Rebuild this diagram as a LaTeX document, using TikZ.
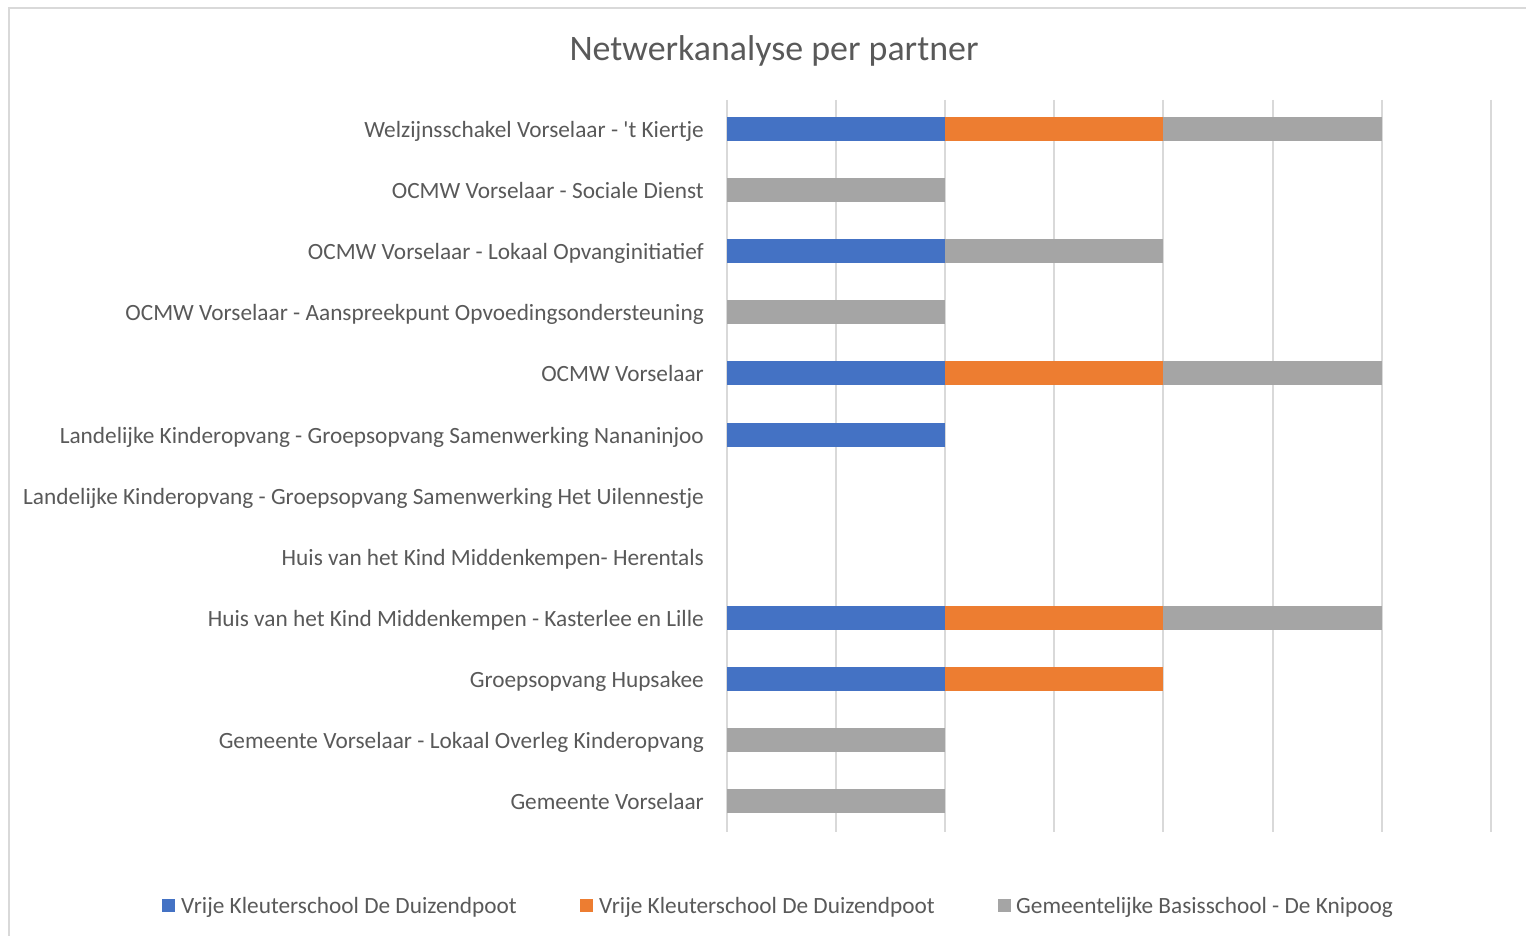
\documentclass[tikz,border=0pt]{standalone}
\usepackage{fontspec}
\setmainfont{Carlito}[Ligatures=TeXOff]
\usepackage{tikz}

\definecolor{barblue}{HTML}{4472C4}
\definecolor{barorange}{HTML}{ED7D31}
\definecolor{bargray}{HTML}{A5A5A5}
\definecolor{labeltext}{HTML}{595959}
\definecolor{gridgray}{HTML}{D9D9D9}

\tikzset{
  rowlabel/.style={anchor=base east, inner sep=0pt, text=labeltext, font=\fontsize{23.3}{27}\selectfont},
  keylabel/.style={anchor=base west, inner sep=0pt, text=labeltext, font=\fontsize{23.3}{27}\selectfont},
  gridline/.style={draw=gridgray, line width=2pt}
}

\begin{document}
\begin{tikzpicture}[x=1pt, y=-1pt]
\useasboundingbox (0,0) rectangle (1526,936);
\draw[gridgray, line width=2pt] (9,950) -- (9,8) -- (1540,8);

% title
\node[anchor=base, inner sep=0pt, text=labeltext, font=\fontsize{35.9}{40}\selectfont] (title) at (774,61) {Netwerkanalyse per partner};

% grid
\foreach \gx in {727,836.1,945.2,1054.3,1163.4,1272.5,1381.6,1490.7}
  \draw[gridline] (\gx,100) -- (\gx,832);

% bars
\fill[barblue] (727,117) rectangle (945.2,141);
\fill[barorange] (945.2,117) rectangle (1163.4,141);
\fill[bargray] (1163.4,117) rectangle (1381.6,141);
\fill[bargray] (727,178.1) rectangle (945.2,202.1);
\fill[barblue] (727,239.2) rectangle (945.2,263.2);
\fill[bargray] (945.2,239.2) rectangle (1163.4,263.2);
\fill[bargray] (727,300.3) rectangle (945.2,324.3);
\fill[barblue] (727,361.4) rectangle (945.2,385.4);
\fill[barorange] (945.2,361.4) rectangle (1163.4,385.4);
\fill[bargray] (1163.4,361.4) rectangle (1381.6,385.4);
\fill[barblue] (727,422.5) rectangle (945.2,446.5);
\fill[barblue] (727,605.7) rectangle (945.2,629.7);
\fill[barorange] (945.2,605.7) rectangle (1163.4,629.7);
\fill[bargray] (1163.4,605.7) rectangle (1381.6,629.7);
\fill[barblue] (727,666.8) rectangle (945.2,690.8);
\fill[barorange] (945.2,666.8) rectangle (1163.4,690.8);
\fill[bargray] (727,727.9) rectangle (945.2,751.9);
\fill[bargray] (727,789) rectangle (945.2,813);

% partner labels
\node[rowlabel] (kiertje) at (704,137.5) {Welzijnsschakel Vorselaar - 't Kiertje};
\node[rowlabel] (sociaal) at (704,198.6) {OCMW Vorselaar - Sociale Dienst};
\node[rowlabel] (loi) at (704,259.7) {OCMW Vorselaar - Lokaal Opvanginitiatief};
\node[rowlabel] (aanspreek) at (704,320.8) {OCMW Vorselaar - Aanspreekpunt Opvoedingsondersteuning};
\node[rowlabel] (ocmw) at (704,381.9) {OCMW Vorselaar};
\node[rowlabel] (nanan) at (704,443) {Landelijke Kinderopvang - Groepsopvang Samenwerking Nananinjoo};
\node[rowlabel] (uilen) at (704,504) {Landelijke Kinderopvang - Groepsopvang Samenwerking Het Uilennestje};
\node[rowlabel] (herentals) at (704,565.1) {Huis van het Kind Middenkempen- Herentals};
\node[rowlabel] (kasterlee) at (704,626.2) {Huis van het Kind Middenkempen - Kasterlee en Lille};
\node[rowlabel] (hupsakee) at (704,687.3) {Groepsopvang Hupsakee};
\node[rowlabel] (overleg) at (704,748.4) {Gemeente Vorselaar - Lokaal Overleg Kinderopvang};
\node[rowlabel] (gemeente) at (704,809.5) {Gemeente Vorselaar};

% legend
\fill[barblue] (162,899) rectangle (175,912);
\node[keylabel] (keyblue) at (181,913) {Vrije Kleuterschool De Duizendpoot};
\fill[barorange] (580,899) rectangle (593,912);
\node[keylabel] (keyorange) at (599,913) {Vrije Kleuterschool De Duizendpoot};
\fill[bargray] (998,899) rectangle (1011,912);
\node[keylabel] (keygray) at (1016,913) {Gemeentelijke Basisschool - De Knipoog};
\end{tikzpicture}
\end{document}
